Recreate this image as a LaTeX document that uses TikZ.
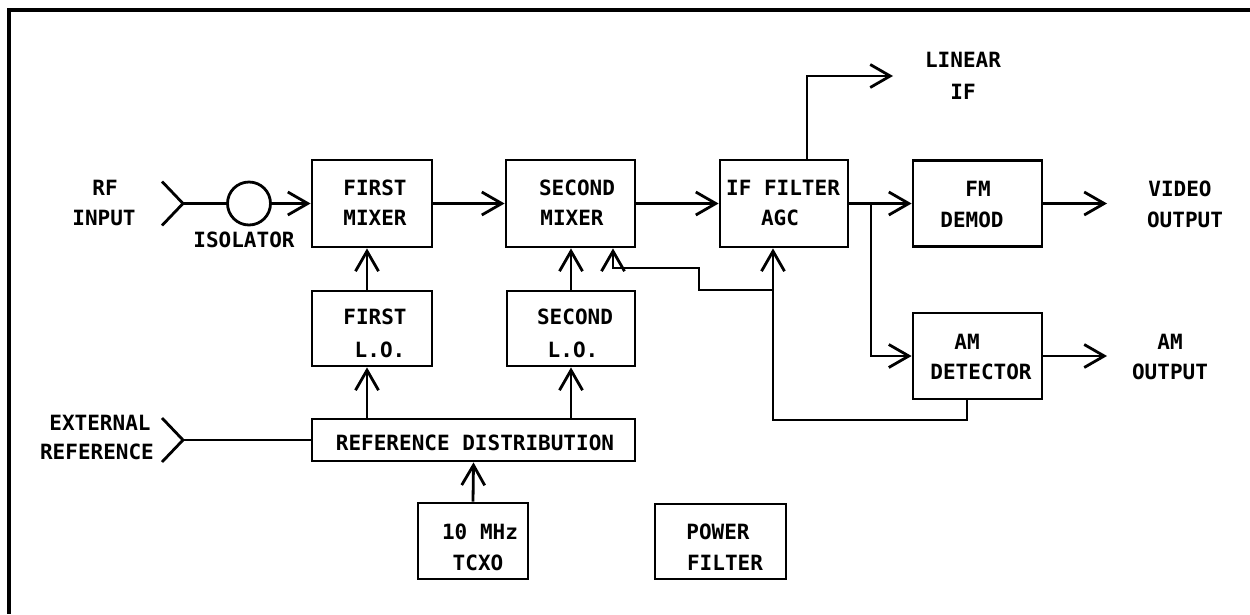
\documentclass[tikz,border=0pt]{standalone}
\usepackage{fontspec}
\setmonofont{DejaVu Sans Mono}
\usetikzlibrary{arrows.meta}
\tikzset{
  wire/.style={line width=2.8pt, line join=miter},
  arr/.style={wire, -{Straight Barb[length=20pt,width=23pt,line width=2.8pt]}},
  blk/.style={draw, line width=2.8pt, inner sep=0pt},
  lbl/.style={font=\fontsize{21}{21}\selectfont\ttfamily\bfseries, inner sep=0pt, anchor=center},
  chev/.style={line width=2.8pt},
}
\begin{document}
\begin{tikzpicture}[x=1pt,y=-1pt]
\useasboundingbox (0,0) rectangle (1250,614);
% frame (top and left edges only visible)
\draw[line width=4pt] (1250,10) -- (9,10) -- (9,614);

% blocks
\node[blk, minimum width=120pt, minimum height=87pt] (m1) at (372,203.5) {};
\node[blk, minimum width=129pt, minimum height=87pt] (m2) at (570.5,203.5) {};
\node[blk, minimum width=128pt, minimum height=87pt] (ifagc) at (784,203.5) {};
\node[blk, minimum width=129pt, minimum height=86pt] (fmd) at (977.5,203.5) {};
\node[blk, minimum width=129pt, minimum height=86pt] (amd) at (977.5,356) {};
\node[blk, minimum width=120pt, minimum height=75pt] (lo1) at (372,328.5) {};
\node[blk, minimum width=128pt, minimum height=75pt] (lo2) at (571,328.5) {};
\node[blk, minimum width=323pt, minimum height=42pt] (refd) at (473.5,440) {};
\node[blk, minimum width=110pt, minimum height=76pt] (tcxo) at (473,541) {};
\node[blk, minimum width=131pt, minimum height=75pt] (pwr) at (720.5,541.5) {};
\node[draw, circle, line width=2.8pt, minimum size=43pt, inner sep=0pt] (iso) at (249,203.5) {};

% labels
\node[lbl] (tRF) at (105,188) {RF};
\node[lbl] (tRFb) at (104,218) {INPUT};
\node[lbl] (tISO) at (244,240) {ISOLATOR};
\node[lbl] (tM1a) at (375,188) {FIRST};
\node[lbl] (tM1b) at (375,218) {MIXER};
\node[lbl] (tM2a) at (577,188) {SECOND};
\node[lbl] (tM2b) at (572,218) {MIXER};
\node[lbl] (tIFa) at (783,188) {IF FILTER};
\node[lbl] (tIFb) at (780,218) {AGC};
\node[lbl] (tFMa) at (978,189) {FM};
\node[lbl] (tFMb) at (972,220) {DEMOD};
\node[lbl] (tAMa) at (967,342) {AM};
\node[lbl] (tAMb) at (981,372) {DETECTOR};
\node[lbl] (tVa) at (1180,189) {VIDEO};
\node[lbl] (tVb) at (1185,220) {OUTPUT};
\node[lbl] (tAOa) at (1170,342) {AM};
\node[lbl] (tAOb) at (1170,372) {OUTPUT};
\node[lbl] (tLa) at (963,60) {LINEAR};
\node[lbl] (tLb) at (963,92) {IF};
\node[lbl] (tL1a) at (375,317) {FIRST};
\node[lbl] (tL1b) at (380,350) {L.O.};
\node[lbl] (tL2a) at (575,317) {SECOND};
\node[lbl] (tL2b) at (573,350) {L.O.};
\node[lbl] (tRD) at (475,443) {REFERENCE DISTRIBUTION};
\node[lbl] (tEa) at (100,423) {EXTERNAL};
\node[lbl] (tEb) at (97,452) {REFERENCE};
\node[lbl] (tTa) at (480,532) {10 MHz};
\node[lbl] (tTb) at (478,563) {TCXO};
\node[lbl] (tPa) at (718,532) {POWER};
\node[lbl] (tPb) at (725,563) {FILTER};

% coordinates
\coordinate (rfin) at (183,203.5);
\coordinate (extin) at (183,440);
\coordinate (c1) at (367,0);
\coordinate (c2) at (571,0);
\coordinate (split) at (871,203.5);
\coordinate (vid) at (1107,203.5);
\coordinate (amo) at (1107,356);
\coordinate (lt) at (807,76);
\coordinate (linif) at (893,76);
\coordinate (fbr) at (967,420);
\coordinate (fbl) at (773,420);
\coordinate (fbj) at (773,290);
\coordinate (fbk) at (699,268);
\coordinate (fbm) at (613,268);

% input chevrons
\draw[chev] (162,181.5) -- (rfin) -- (162,225.5);
\draw[chev] (162,418) -- (extin) -- (162,462);

% signal path
\draw[wire] (rfin) -- (iso.west);
\draw[arr] (iso.east) -- (m1.west);
\draw[arr] (m1.east) -- (m2.west);
\draw[arr] (m2.east) -- (ifagc.west);
\draw[arr] (ifagc.east) -- (fmd.west);
\draw[arr] (split) |- (amd.west);
\draw[arr] (fmd.east) -- (vid);
\draw[arr] (amd.east) -- (amo);
\draw[arr] (ifagc.north -| lt) -- (lt) -- (linif);

% local oscillators and reference
\draw[arr] (lo1.north -| c1) -- (m1.south -| c1);
\draw[arr] (refd.north -| c1) -- (lo1.south -| c1);
\draw[arr] (lo2.north -| c2) -- (m2.south -| c2);
\draw[arr] (refd.north -| c2) -- (lo2.south -| c2);
\draw[arr] (tcxo.north) -- (refd.south);
\draw[wire] (extin) -- (refd.west);

% AGC feedback
\draw[arr] (amd.south -| fbr) -- (fbr) -- (fbl) -- (ifagc.south -| fbl);
\draw[arr] (fbj) -| (fbk) -- (fbm) -- (m2.south -| fbm);
\end{tikzpicture}
\end{document}
